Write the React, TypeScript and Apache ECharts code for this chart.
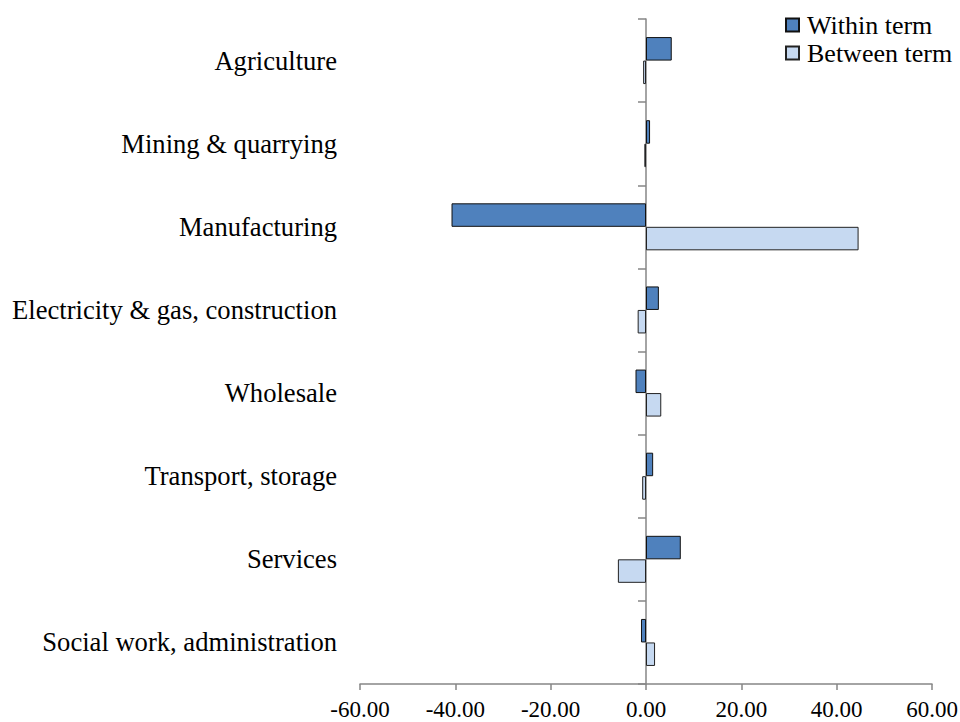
import React, { useEffect, useRef } from "react";
import * as echarts from "echarts";

const categories = [
  "Agriculture",
  "Mining & quarrying",
  "Manufacturing",
  "Electricity & gas, construction",
  "Wholesale",
  "Transport, storage",
  "Services",
  "Social work, administration",
];
const withinTerm = [5.4, 0.85, -40.8, 2.7, -2.2, 1.5, 7.3, -1.05];
const betweenTerm = [-0.6, -0.35, 44.6, -1.75, 3.2, -0.8, -5.9, 1.9];

const FONT = "'Liberation Serif', 'Times New Roman', serif";

export default function App() {
  const ref = useRef<HTMLDivElement>(null);
  useEffect(() => {
    if (!ref.current) return;
    const chart = echarts.init(ref.current, undefined, { renderer: "svg" });
    chart.setOption({
      animation: false,
      textStyle: { fontFamily: FONT, color: "#000" },
      legend: {
        orient: "vertical",
        left: 785,
        top: 12,
        padding: 0,
        itemWidth: 13,
        itemHeight: 13,
        itemGap: 2,
        icon: "rect",
        textStyle: { fontFamily: FONT, fontSize: 26, color: "#000", lineHeight: 26, padding: [0, 0, 0, 3] },
        data: ["Within term", "Between term"],
      },
      grid: {
        left: 360,
        right: 28,
        top: 19,
        bottom: 38,
        containLabel: false,
        outerBoundsMode: "none",
      },
      xAxis: {
        type: "value",
        min: -60,
        max: 60,
        interval: 20,
        splitLine: { show: false },
        axisLine: { show: true, onZero: false, lineStyle: { color: "#868686", width: 1.5 } },
        axisTick: { show: true, length: 6, lineStyle: { color: "#868686", width: 1.5 } },
        axisLabel: {
          fontFamily: FONT,
          fontSize: 23,
          color: "#000",
          margin: 14,
          formatter: (v: number) => v.toFixed(2),
        },
      },
      yAxis: {
        type: "category",
        data: categories,
        inverse: true,
        axisLine: { show: true, onZero: true, lineStyle: { color: "#868686", width: 1.5 } },
        axisTick: { show: true, length: 8, lineStyle: { color: "#868686", width: 1.5 } },
        axisLabel: { fontFamily: FONT, fontSize: 26.6, color: "#000", margin: 23 },
        splitLine: { show: false },
      },
      series: [
        {
          name: "Within term",
          type: "bar",
          data: withinTerm,
          barWidth: 23.5,
          barGap: "0%",
          itemStyle: { color: "#4F81BD", borderColor: "#111", borderWidth: 1 },
        },
        {
          name: "Between term",
          type: "bar",
          data: betweenTerm,
          barWidth: 23.5,
          barGap: "0%",
          itemStyle: { color: "#C6D9F1", borderColor: "#222", borderWidth: 1 },
        },
      ],
    });
    return () => chart.dispose();
  }, []);
  return (
    <div
      ref={ref}
      style={{ position: "absolute", left: 0, top: 0, width: 960, height: 722 }}
    />
  );
}
